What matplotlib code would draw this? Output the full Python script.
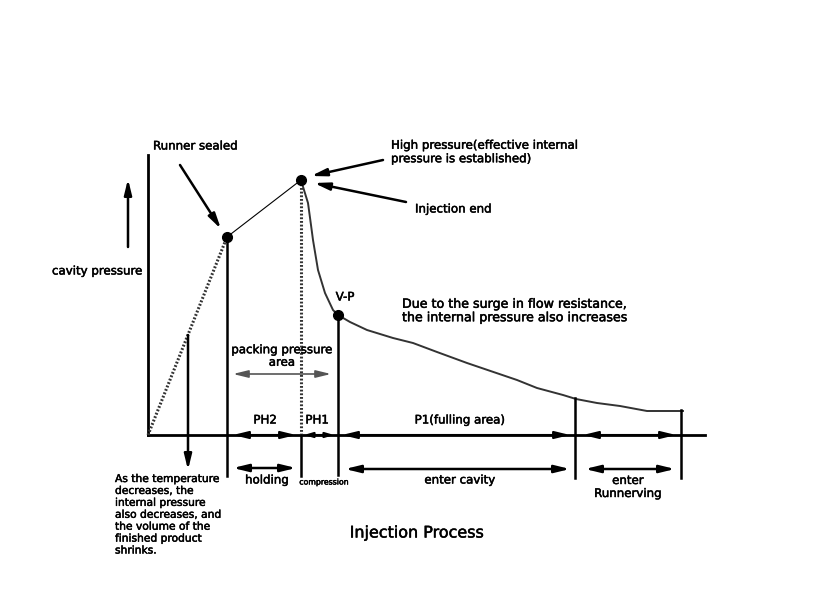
import matplotlib.pyplot as plt
import matplotlib.patheffects as pe

plt.rcParams['font.family'] = ['DejaVu Sans']

# key points (time, pressure) measured from the origin of the diagram
runner_sealed = (79, 198)
peak = (153, 255)
vp = (190, 120)

# pressure curve after the peak
curve_t = [153, 156, 160, 163, 165, 170, 177, 185, 190, 202, 219, 245, 265, 289, 319,
           369, 389, 415, 428, 449, 472, 499, 535]
curve_p = [255, 245, 232, 210, 195, 165, 142, 125, 120, 113, 105, 97, 92, 83, 72,
           55, 47, 40, 36, 32, 29, 24, 24]

# phase boundaries on the time axis
t_bounds = [79, 153, 190, 427, 533]
bound_top = [198, 0, 120, 37, 25]

fig = plt.figure(figsize=(8.24, 6.08), dpi=100)
ax = fig.add_axes([0, 0, 1, 1])
ax.set_xlim(-148, 676)
ax.set_ylim(-173, 435)
ax.axis('off')

fs = 8.5
heavy = [pe.withStroke(linewidth=0.35, foreground='black')]

# axes
ax.plot([0, 0], [0, 280], color='black', lw=2)
ax.plot([0, 557], [0, 0], color='black', lw=2)

# dotted ramps
ax.plot([0, runner_sealed[0]], [0, runner_sealed[1]], color='#333333', lw=2.2, ls=(0, (0.6, 0.6)))
ax.plot([peak[0], peak[0]], [0, peak[1]], color='#333333', lw=2.2, ls=(0, (0.6, 0.6)))

# line runner sealed -> peak
ax.plot([runner_sealed[0], peak[0]], [runner_sealed[1], peak[1]], color='black', lw=0.8)

# curve
ax.plot(curve_t, curve_p, color='#333333', lw=1.4)

# points
for p in [runner_sealed, peak, vp]:
    ax.plot(p[0], p[1], 'o', color='black', ms=7)

# vertical boundaries
ax.plot([t_bounds[0], t_bounds[0]], [-41, bound_top[0]], color='black', lw=1.8)
ax.plot([t_bounds[1], t_bounds[1]], [-41, bound_top[1]], color='black', lw=1.8)
ax.plot([t_bounds[2], t_bounds[2]], [-40, bound_top[2]], color='black', lw=1.8)
ax.plot([t_bounds[3], t_bounds[3]], [-43, bound_top[3]], color='black', lw=1.8)
ax.plot([t_bounds[4], t_bounds[4]], [-43, bound_top[4]], color='black', lw=1.8)


def arrow(x0, y0, x1, y1, style='-|>', lw=1.8, color='black', hl=0.9, hw=0.22):
    ax.annotate('', xy=(x1, y1), xytext=(x0, y0),
                arrowprops=dict(arrowstyle=f'{style},head_length={hl},head_width={hw}',
                                color=color, lw=lw, shrinkA=0, shrinkB=0))


def label(x, y, s, size=fs, **kw):
    ax.text(x, y, s, fontsize=size, path_effects=heavy, **kw)


# up arrow beside y axis
arrow(-20, 188, -20, 256)
# down arrow
arrow(40, 100, 40, -35)
# packing pressure area
arrow(85, 61, 183, 61, style='<|-|>', color='#555555', lw=1.2)
# arrows on the time axis
arrow(85, 0, 148, 0, style='<|-|>', lw=1.5)
arrow(156, 0, 186, 0, style='<|-|>', lw=1.5, hl=0.5, hw=0.15)
arrow(194, 0, 422, 0, style='<|-|>', lw=1.5)
arrow(435, 0, 528, 0, style='<|-|>', lw=1.5)
# arrows below the axis
arrow(85, -33, 148, -33, style='<|-|>', lw=1.8)
arrow(197, -34, 422, -34, style='<|-|>', lw=1.8)
arrow(437, -34, 527, -34, style='<|-|>', lw=1.8)

# callout arrows
arrow(32, 270, 73, 206)
arrow(235, 275, 163, 259)
arrow(258, 233, 166, 252)

# texts
label(5, 289, 'Runner sealed', ha='left', va='center')
label(243, 283, 'High pressure(effective internal\npressure is established)',
      ha='left', va='center', linespacing=1.05)
label(267, 226, 'Injection end', ha='left', va='center')
label(-96, 164, 'cavity pressure', ha='left', va='center')
label(197, 138, 'V-P', ha='center', va='center')
label(254, 124, 'Due to the surge in flow resistance,\nthe internal pressure also increases',
      size=9.1, ha='left', va='center', linespacing=1.05)
label(134, 79, 'packing pressure\narea', ha='center', va='center', linespacing=0.95)
label(117, 15, 'PH2', ha='center', va='center')
label(169, 15, 'PH1', ha='center', va='center')
label(312, 15, 'P1(fulling area)', ha='center', va='center')
label(119, -45, 'holding', ha='center', va='center')
label(176, -47, 'compression', size=5.6, ha='center', va='center')
label(312, -45, 'enter cavity', ha='center', va='center')
label(480, -52, 'enter\nRunnerving', ha='center', va='center', linespacing=1.0)
label(-33, -39, 'As the temperature\ndecreases, the\ninternal pressure\nalso decreases, and\n'
      'the volume of the\nfinished product\nshrinks.', size=7.7, ha='left', va='top',
      linespacing=1.24)
label(269, -98, 'Injection Process', size=11.5, ha='center', va='center')

fig.savefig('out.png', dpi=100)
